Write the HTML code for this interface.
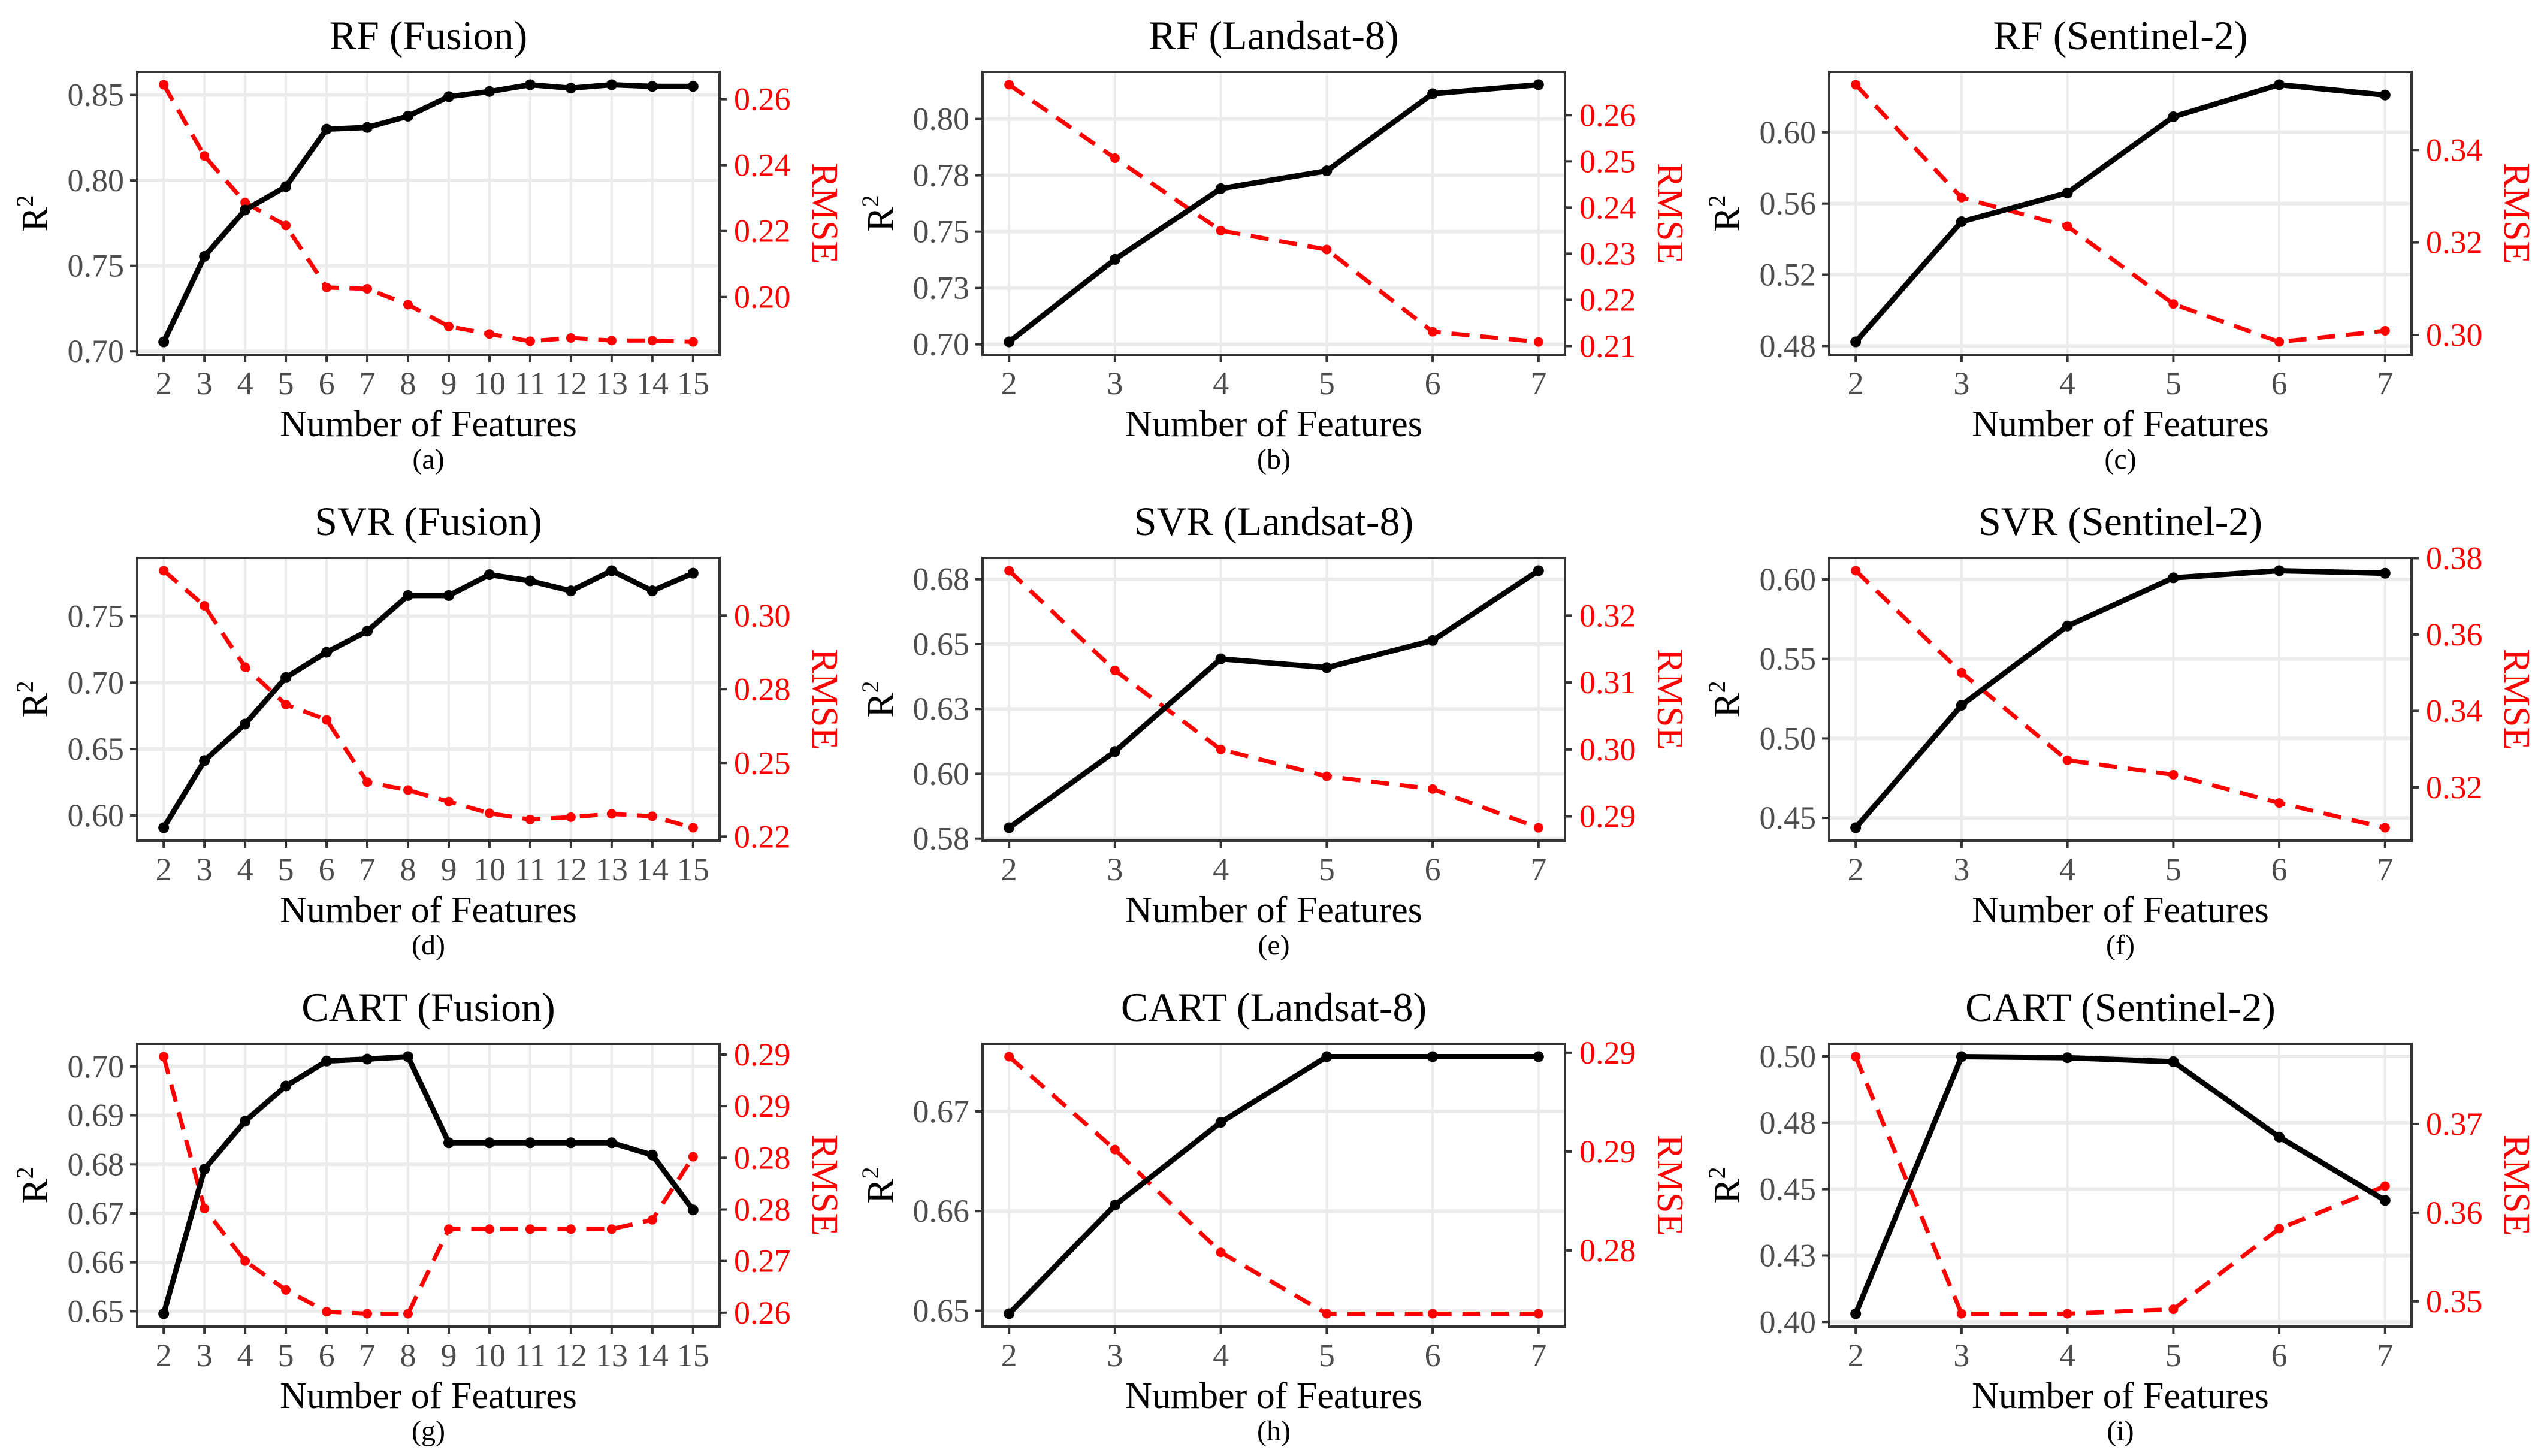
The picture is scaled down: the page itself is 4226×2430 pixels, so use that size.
<!DOCTYPE html>
<html><head><meta charset="utf-8"><title>Feature selection R2 and RMSE</title>
<style>
html,body{margin:0;padding:0;background:#fff;}
svg{display:block;font-family:"Liberation Serif",serif;}
</style></head>
<body>
<svg id="fig" width="4226" height="2430" viewBox="0 0 4226 2430" xmlns="http://www.w3.org/2000/svg"></svg>
<script>
// ---------- data ----------
const xFusion = [2,3,4,5,6,7,8,9,10,11,12,13,14,15];
const xSensor = [2,3,4,5,6,7];

const rfFusionR2   = [0.7055,0.7555,0.7827,0.7964,0.830,0.831,0.8376,0.849,0.852,0.856,0.854,0.856,0.855,0.855];
const rfFusionRMSE = [0.2644,0.2428,0.2287,0.2217,0.2029,0.2025,0.1977,0.1911,0.1888,0.1866,0.1876,0.1868,0.1868,0.1864];
const rfLandR2     = [0.7011,0.7377,0.7691,0.7770,0.8112,0.8152];
const rfLandRMSE   = [0.2666,0.2507,0.2350,0.2309,0.2131,0.2109];
const rfSentR2     = [0.4823,0.5498,0.5660,0.6087,0.6267,0.6209];
const rfSentRMSE   = [0.3541,0.3297,0.3235,0.3067,0.2985,0.3009];

const svrFusionR2   = [0.5907,0.6413,0.6688,0.7038,0.7229,0.7388,0.7656,0.7656,0.7813,0.7766,0.7691,0.7843,0.7691,0.7824];
const svrFusionRMSE = [0.3152,0.3033,0.2825,0.2698,0.2646,0.2435,0.2408,0.2369,0.2329,0.2308,0.2316,0.2327,0.2319,0.2280];
const svrLandR2     = [0.5792,0.6086,0.6443,0.6409,0.6514,0.6783];
const svrLandRMSE   = [0.3267,0.3118,0.3000,0.2960,0.2941,0.2883];
const svrSentR2     = [0.4438,0.5209,0.5707,0.6010,0.6055,0.6039];
const svrSentRMSE   = [0.3767,0.3500,0.3271,0.3233,0.3159,0.3094];

const cartFusionR2   = [0.6495,0.6790,0.6888,0.6960,0.7011,0.7015,0.7020,0.6844,0.6844,0.6844,0.6844,0.6844,0.6819,0.6707];
const cartFusionRMSE = [0.2848,0.2701,0.2650,0.2622,0.2601,0.2599,0.2599,0.2681,0.2681,0.2681,0.2681,0.2681,0.2690,0.2751];
const cartLandR2     = [0.6497,0.6606,0.6689,0.6755,0.6755,0.6755];
const cartLandRMSE   = [0.2898,0.2851,0.2799,0.2768,0.2768,0.2768];
const cartSentR2     = [0.4031,0.4999,0.4995,0.4980,0.4696,0.4458];
const cartSentRMSE   = [0.3776,0.3486,0.3486,0.3491,0.3582,0.3630];

// tick values and printed labels
const rfFusionR2Ticks = [0.70,0.75,0.80,0.85];       const rfFusionR2Labels = ["0.70","0.75","0.80","0.85"];
const rfFusionRMSETicks = [0.20,0.22,0.24,0.26];     const rfFusionRMSELabels = ["0.20","0.22","0.24","0.26"];
const rfLandR2Ticks = [0.70,0.725,0.75,0.775,0.80];  const rfLandR2Labels = ["0.70","0.73","0.75","0.78","0.80"];
const rfLandRMSETicks = [0.21,0.22,0.23,0.24,0.25,0.26]; const rfLandRMSELabels = ["0.21","0.22","0.23","0.24","0.25","0.26"];
const rfSentR2Ticks = [0.48,0.52,0.56,0.60];         const rfSentR2Labels = ["0.48","0.52","0.56","0.60"];
const rfSentRMSETicks = [0.30,0.32,0.34];            const rfSentRMSELabels = ["0.30","0.32","0.34"];
const svrFusionR2Ticks = [0.60,0.65,0.70,0.75];      const svrFusionR2Labels = ["0.60","0.65","0.70","0.75"];
const svrFusionRMSETicks = [0.225,0.25,0.275,0.30];  const svrFusionRMSELabels = ["0.22","0.25","0.28","0.30"];
const svrLandR2Ticks = [0.575,0.60,0.625,0.65,0.675]; const svrLandR2Labels = ["0.58","0.60","0.63","0.65","0.68"];
const svrLandRMSETicks = [0.29,0.30,0.31,0.32];      const svrLandRMSELabels = ["0.29","0.30","0.31","0.32"];
const svrSentR2Ticks = [0.45,0.50,0.55,0.60];        const svrSentR2Labels = ["0.45","0.50","0.55","0.60"];
const svrSentRMSETicks = [0.32,0.34,0.36,0.38];      const svrSentRMSELabels = ["0.32","0.34","0.36","0.38"];
const cartFusionR2Ticks = [0.65,0.66,0.67,0.68,0.69,0.70]; const cartFusionR2Labels = ["0.65","0.66","0.67","0.68","0.69","0.70"];
const cartFusionRMSETicks = [0.26,0.265,0.27,0.275,0.28,0.285]; const cartFusionRMSELabels = ["0.26","0.27","0.28","0.28","0.29","0.29"];
const cartLandR2Ticks = [0.65,0.66,0.67];            const cartLandR2Labels = ["0.65","0.66","0.67"];
const cartLandRMSETicks = [0.28,0.285,0.29];         const cartLandRMSELabels = ["0.28","0.29","0.29"];
const cartSentR2Ticks = [0.40,0.425,0.45,0.475,0.50]; const cartSentR2Labels = ["0.40","0.43","0.45","0.48","0.50"];
const cartSentRMSETicks = [0.35,0.36,0.37];          const cartSentRMSELabels = ["0.35","0.36","0.37"];

const panels = [
 {key:"rf-fusion", title:"RF (Fusion)", letter:"(a)", col:0,row:0, x:xFusion, r2:rfFusionR2, rmse:rfFusionRMSE, r2t:rfFusionR2Ticks, r2l:rfFusionR2Labels, rt:rfFusionRMSETicks, rl:rfFusionRMSELabels},
 {key:"rf-landsat", title:"RF (Landsat-8)", letter:"(b)", col:1,row:0, x:xSensor, r2:rfLandR2, rmse:rfLandRMSE, r2t:rfLandR2Ticks, r2l:rfLandR2Labels, rt:rfLandRMSETicks, rl:rfLandRMSELabels},
 {key:"rf-sentinel", title:"RF (Sentinel-2)", letter:"(c)", col:2,row:0, x:xSensor, r2:rfSentR2, rmse:rfSentRMSE, r2t:rfSentR2Ticks, r2l:rfSentR2Labels, rt:rfSentRMSETicks, rl:rfSentRMSELabels},
 {key:"svr-fusion", title:"SVR (Fusion)", letter:"(d)", col:0,row:1, x:xFusion, r2:svrFusionR2, rmse:svrFusionRMSE, r2t:svrFusionR2Ticks, r2l:svrFusionR2Labels, rt:svrFusionRMSETicks, rl:svrFusionRMSELabels},
 {key:"svr-landsat", title:"SVR (Landsat-8)", letter:"(e)", col:1,row:1, x:xSensor, r2:svrLandR2, rmse:svrLandRMSE, r2t:svrLandR2Ticks, r2l:svrLandR2Labels, rt:svrLandRMSETicks, rl:svrLandRMSELabels},
 {key:"svr-sentinel", title:"SVR (Sentinel-2)", letter:"(f)", col:2,row:1, x:xSensor, r2:svrSentR2, rmse:svrSentRMSE, r2t:svrSentR2Ticks, r2l:svrSentR2Labels, rt:svrSentRMSETicks, rl:svrSentRMSELabels},
 {key:"cart-fusion", title:"CART (Fusion)", letter:"(g)", col:0,row:2, x:xFusion, r2:cartFusionR2, rmse:cartFusionRMSE, r2t:cartFusionR2Ticks, r2l:cartFusionR2Labels, rt:cartFusionRMSETicks, rl:cartFusionRMSELabels},
 {key:"cart-landsat", title:"CART (Landsat-8)", letter:"(h)", col:1,row:2, x:xSensor, r2:cartLandR2, rmse:cartLandRMSE, r2t:cartLandR2Ticks, r2l:cartLandR2Labels, rt:cartLandRMSETicks, rl:cartLandRMSELabels},
 {key:"cart-sentinel", title:"CART (Sentinel-2)", letter:"(i)", col:2,row:2, x:xSensor, r2:cartSentR2, rmse:cartSentRMSE, r2t:cartSentR2Ticks, r2l:cartSentR2Labels, rt:cartSentRMSETicks, rl:cartSentRMSELabels}
];

// ---------- layout ----------
const colLeft = [229, 1640, 3053];
const boxW = 972;
const rowTop = [120, 931, 1742];
const boxH = 472;
const NS = "http://www.w3.org/2000/svg";
const svg = document.getElementById('fig');

function mk(tag, attrs, parent, text){
  const e = document.createElementNS(NS, tag);
  for (const k in attrs) e.setAttribute(k, attrs[k]);
  if (text !== undefined) e.textContent = text;
  parent.appendChild(e);
  return e;
}
function linScale(d0,d1,r0,r1){ return v => r0 + (v-d0)/(d1-d0)*(r1-r0); }
function expanded(arr){ const lo=Math.min(...arr), hi=Math.max(...arr), p=(hi-lo)*0.05; return [lo-p, hi+p]; }

panels.forEach(p => {
  const L = colLeft[p.col], T = rowTop[p.row], R = L+boxW, B = T+boxH;
  const g = mk('g', {}, svg);
  
  

  const xd = expanded(p.x), yd = expanded(p.r2), rd = expanded(p.rmse);
  const sx = linScale(xd[0], xd[1], L, R);
  const sy = linScale(yd[0], yd[1], B, T);
  const sr = linScale(rd[0], rd[1], B, T);

  const bg = mk('rect', {x:L, y:T, width:boxW, height:boxH, fill:'#fff'}, g);
  
  

  // grid
  const grid = mk('g', {stroke:'#ebebeb', 'stroke-width':4}, g);
  
  
  p.x.forEach(v => mk('line', {x1:sx(v), x2:sx(v), y1:T, y2:B}, grid));
  p.r2t.forEach(v => mk('line', {x1:L, x2:R, y1:sy(v), y2:sy(v), 'stroke-width':6}, grid));

  // RMSE series (red dashed)
  const rpts = p.x.map((v,i) => sx(v).toFixed(1)+','+sr(p.rmse[i]).toFixed(1)).join(' ');
  const rl = mk('polyline', {points:rpts, fill:'none', stroke:'#ff0000', 'stroke-width':7, 'stroke-dasharray':'30 18'}, g);
  
  
  p.x.forEach((v,i) => {
    const c = mk('circle', {cx:sx(v), cy:sr(p.rmse[i]), r:8, fill:'#ff0000'}, g);
    
    
  });

  // R2 series (black solid)
  const bpts = p.x.map((v,i) => sx(v).toFixed(1)+','+sy(p.r2[i]).toFixed(1)).join(' ');
  const bl = mk('polyline', {points:bpts, fill:'none', stroke:'#000', 'stroke-width':9, 'stroke-linejoin':'round'}, g);
  
  
  p.x.forEach((v,i) => {
    const c = mk('circle', {cx:sx(v), cy:sy(p.r2[i]), r:9, fill:'#000'}, g);
    
    
  });

  // border
  const bd = mk('rect', {x:L, y:T, width:boxW, height:boxH, fill:'none', stroke:'#333', 'stroke-width':4}, g);
  
  

  // left ticks
  const ly = mk('g', {}, g);
  
  
  p.r2t.forEach((v,i) => {
    mk('line', {x1:L-12, x2:L, y1:sy(v), y2:sy(v), stroke:'#333', 'stroke-width':4}, ly);
    const t = mk('text', {x:L-22, y:sy(v)+18, 'text-anchor':'end', 'font-size':54, fill:'#4d4d4d'}, ly, p.r2l[i]);
    
    
  });
  // right ticks
  const ry = mk('g', {}, g);
  
  
  p.rt.forEach((v,i) => {
    mk('line', {x1:R, x2:R+12, y1:sr(v), y2:sr(v), stroke:'#333', 'stroke-width':4}, ry);
    const t = mk('text', {x:R+24, y:sr(v)+18, 'text-anchor':'start', 'font-size':54, fill:'#ff0000'}, ry, p.rl[i]);
    
    
  });
  // x ticks
  const xa = mk('g', {}, g);
  
  
  p.x.forEach(v => {
    mk('line', {x1:sx(v), x2:sx(v), y1:B, y2:B+12, stroke:'#333', 'stroke-width':4}, xa);
    const t = mk('text', {x:sx(v), y:B+66, 'text-anchor':'middle', 'font-size':54, fill:'#4d4d4d'}, xa, String(v));
    
    
  });

  // titles
  const tt = mk('text', {x:(L+R)/2, y:T-38, 'text-anchor':'middle', 'font-size':68, fill:'#000'}, g, p.title);
  
  

  const xt = mk('text', {x:(L+R)/2, y:B+136, 'text-anchor':'middle', 'font-size':62, fill:'#000'}, g, 'Number of Features');
  
  

  const lt = mk('text', {x:(L+R)/2, y:B+190, 'text-anchor':'middle', 'font-size':48, fill:'#000'}, g, p.letter);
  
  

  const yt = mk('text', {x:0, y:0, 'text-anchor':'middle', 'font-size':62, fill:'#000',
      transform:'translate('+(L-150)+','+((T+B)/2)+') rotate(-90)'}, g);
  
  
  mk('tspan', {}, yt, 'R');
  mk('tspan', {dy:-24, 'font-size':40}, yt, '2');

  const rt = mk('text', {x:0, y:0, 'text-anchor':'middle', 'font-size':62, fill:'#ff0000',
      transform:'translate('+(R+155)+','+((T+B)/2)+') rotate(90)'}, g, 'RMSE');
  
  
});
</script>
</body></html>
